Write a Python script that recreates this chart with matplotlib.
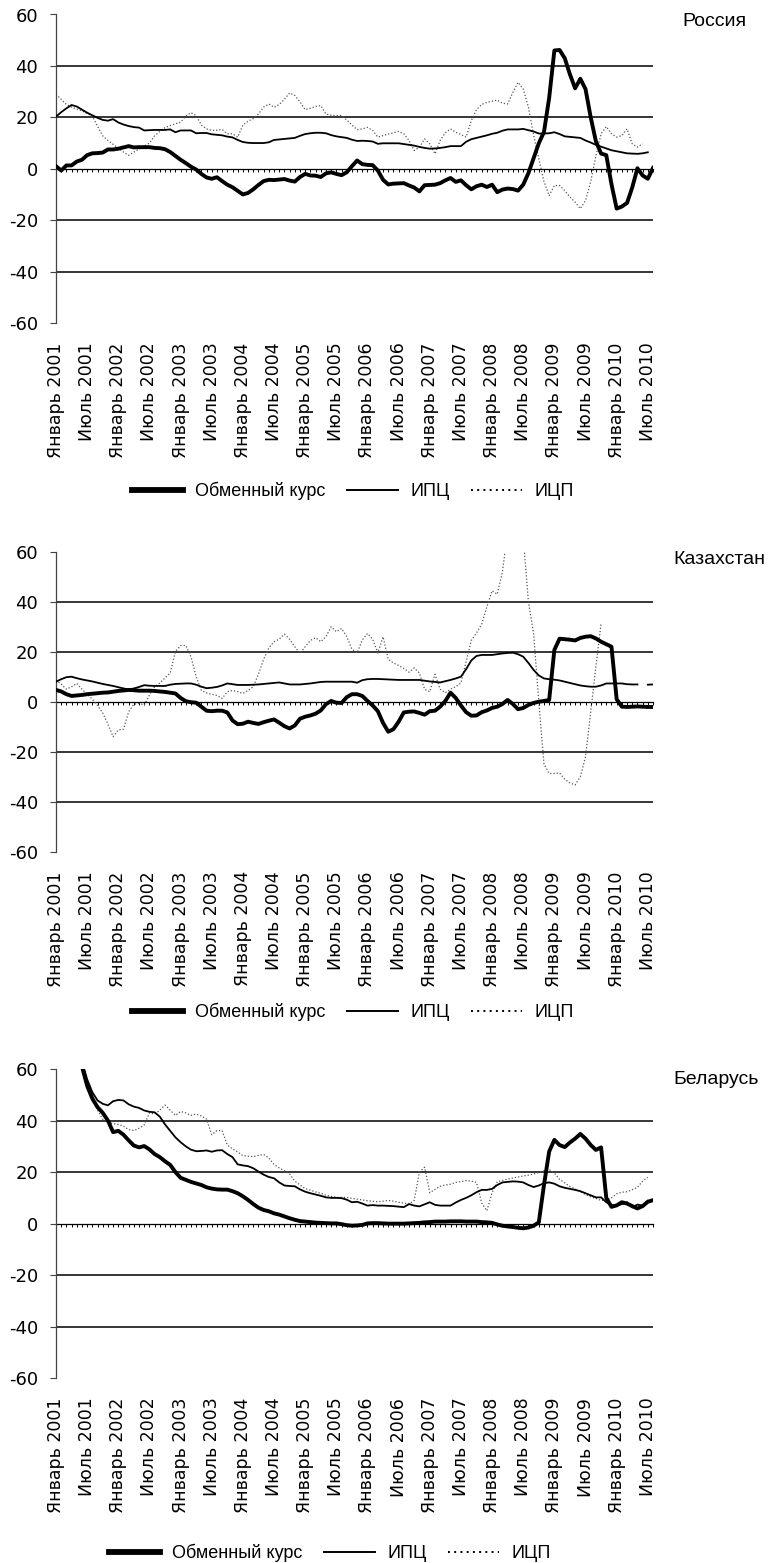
import numpy as np
import matplotlib.pyplot as plt
from matplotlib.lines import Line2D

plt.rcParams['axes.unicode_minus'] = False

nan = np.nan

# Россия
rus_fx = [1.0, -0.7, 1.3, 1.3, 2.8, 3.5, 5.3, 6.0, 6.1, 6.3,
          7.5, 7.5, 7.8, 8.3, 8.8, 8.3, 8.4, 8.4, 8.4, 8.1,
          8.0, 7.6, 6.5, 5.0, 3.5, 2.2, 0.8, -0.3, -2.0, -3.4,
          -3.9, -3.3, -4.8, -6.2, -7.2, -8.6, -10.0, -9.4, -8.0, -6.3,
          -4.8, -4.3, -4.4, -4.2, -4.0, -4.6, -5.0, -3.2, -2.0, -2.6,
          -2.7, -3.2, -1.8, -1.4, -2.0, -2.5, -1.4, 1.0, 3.2, 1.8,
          1.5, 1.4, -0.7, -4.3, -6.1, -5.8, -5.7, -5.6, -6.5, -7.3,
          -8.8, -6.4, -6.3, -6.2, -5.6, -4.5, -3.6, -5.1, -4.5, -6.4,
          -8.0, -6.8, -6.2, -7.1, -6.2, -9.1, -8.1, -7.7, -7.9, -8.5,
          -6.2, -1.7, 4.1, 9.9, 14.3, 27.6, 46.0, 46.2, 43.0, 36.7,
          31.3, 35.0, 31.0, 20.0, 10.7, 5.9, 5.3, -6.0, -15.5, -14.7,
          -13.3, -7.3, 0.2, -2.6, -3.9, 0.3]
rus_cpi = [20.3, 22.0, 23.5, 24.8, 24.2, 23.0, 21.8, 20.8, 19.8, 19.0,
           18.7, 19.3, 18.0, 17.2, 16.6, 16.2, 16.0, 14.9, 15.0, 15.1,
           15.1, 15.1, 15.3, 14.2, 14.9, 14.9, 14.9, 13.8, 13.9, 13.9,
           13.4, 13.2, 13.0, 12.5, 12.2, 11.2, 10.4, 10.1, 10.0, 10.0,
           10.0, 10.3, 11.2, 11.4, 11.6, 11.8, 12.0, 12.8, 13.5, 13.8,
           14.0, 14.0, 13.8, 13.1, 12.6, 12.3, 12.0, 11.3, 10.8, 10.9,
           10.8, 10.6, 9.7, 9.9, 9.9, 9.9, 9.9, 9.6, 9.3, 9.0,
           8.5, 8.1, 7.8, 7.9, 8.1, 8.4, 8.8, 8.8, 8.8, 10.5,
           11.5, 12.0, 12.5, 13.0, 13.6, 14.0, 14.8, 15.3, 15.3, 15.3,
           15.5, 15.0, 14.5, 13.7, 13.7, 13.8, 14.2, 13.5, 12.6, 12.4,
           12.2, 12.0, 11.0, 10.2, 9.3, 8.6, 7.9, 7.2, 6.8, 6.4,
           6.0, 5.9, 5.8, 6.0, 6.4, nan]
rus_ppi = [29.0, 27.0, 25.0, 24.0, 23.2, 22.5, 21.5, 20.5, 16.5, 12.8,
           11.0, 9.5, 8.0, 6.5, 5.2, 6.5, 7.6, 8.8, 10.0, 12.8,
           14.5, 16.0, 16.8, 17.5, 18.1, 20.5, 21.8, 20.7, 17.0, 15.5,
           14.9, 15.0, 15.3, 13.6, 13.6, 12.3, 17.0, 18.5, 19.5, 21.3,
           24.0, 25.2, 23.9, 25.0, 27.0, 29.5, 28.5, 26.0, 23.0, 23.5,
           24.2, 24.6, 21.3, 20.8, 20.7, 20.7, 19.0, 17.0, 15.2, 15.5,
           16.1, 14.9, 12.3, 12.9, 13.5, 14.0, 14.5, 13.6, 11.0, 7.1,
           8.4, 11.6, 9.7, 5.8, 11.0, 14.0, 15.5, 14.2, 13.3, 12.3,
           18.7, 23.0, 25.0, 25.8, 26.3, 26.7, 25.5, 25.2, 29.7, 33.6,
           31.0, 24.0, 13.0, 4.0, -5.0, -10.5, -6.5, -6.5, -8.5, -11.0,
           -13.0, -15.5, -12.3, -5.0, 5.0, 13.6, 16.4, 13.6, 12.3, 12.9,
           15.5, 9.7, 8.4, 9.7, nan, nan]

# Казахстан
kaz_fx = [4.7, 4.1, 3.0, 2.3, 2.5, 2.7, 3.0, 3.2, 3.4, 3.6,
          3.7, 4.0, 4.3, 4.5, 4.7, 4.6, 4.4, 4.4, 4.4, 4.3,
          4.1, 3.9, 3.6, 3.3, 1.5, 0.2, -0.2, -0.4, -2.0, -3.6,
          -3.8, -3.6, -3.6, -4.3, -7.5, -9.0, -8.8, -8.0, -8.5, -8.9,
          -8.2, -7.6, -7.1, -8.4, -9.8, -10.7, -9.5, -6.8, -6.0, -5.5,
          -4.8, -3.5, -1.0, 0.3, -0.4, -0.5, 1.8, 3.0, 3.0, 2.3,
          0.3, -1.5, -3.8, -8.5, -12.0, -11.0, -8.0, -4.3, -4.0, -3.9,
          -4.5, -5.2, -3.8, -3.6, -2.0, 0.3, 3.6, 1.5, -1.5, -4.2,
          -5.6, -5.5, -4.2, -3.5, -2.5, -2.0, -0.9, 0.7, -0.9, -3.0,
          -2.5, -1.3, -0.5, 0.0, 0.3, 0.7, 20.7, 25.2, 25.0, 24.8,
          24.5, 25.5, 26.0, 26.2, 25.3, 24.0, 23.0, 22.0, 1.0, -2.0,
          -2.1, -2.0, -1.9, -2.0, -2.1, -2.1]
kaz_cpi = [8.0, 9.0, 9.8, 10.0, 9.4, 8.9, 8.5, 8.1, 7.6, 7.1,
           6.7, 6.3, 5.8, 5.3, 4.9, 5.3, 5.9, 6.6, 6.4, 6.3,
           6.3, 6.3, 6.8, 7.1, 7.2, 7.3, 7.3, 6.8, 6.0, 5.4,
           5.6, 5.9, 6.5, 7.3, 7.0, 6.7, 6.7, 6.7, 6.8, 6.9,
           7.1, 7.3, 7.5, 7.7, 7.3, 6.9, 6.9, 6.9, 7.1, 7.3,
           7.6, 7.9, 8.0, 8.0, 8.0, 8.0, 8.0, 8.0, 7.6, 8.6,
           9.0, 9.1, 9.1, 9.0, 8.9, 8.8, 8.7, 8.7, 8.7, 8.7,
           8.7, 8.4, 8.1, 7.9, 7.7, 8.2, 8.7, 9.3, 10.0, 13.0,
           16.5, 18.3, 18.7, 18.7, 18.7, 19.0, 19.3, 19.5, 19.6, 19.0,
           18.0, 15.5, 12.7, 10.5, 9.3, 9.0, 8.8, 8.5, 8.0, 7.5,
           7.0, 6.5, 6.2, 6.0, 6.0, 6.5, 7.3, 7.3, 7.3, 7.3,
           7.0, 6.9, 6.9, nan, 6.8, 6.9]
kaz_ppi = [8.7, 7.0, 5.0, 6.0, 7.3, 5.0, 3.0, 1.0, -1.5, -4.5,
           -9.0, -14.0, -11.3, -11.0, -4.0, -1.0, -0.7, -1.3, 2.7, 6.0,
           7.5, 9.5, 11.5, 20.0, 22.5, 22.5, 18.0, 10.0, 4.5, 3.5,
           3.0, 2.5, 1.3, 4.0, 4.5, 4.0, 3.3, 4.5, 6.0, 11.0,
           17.0, 21.5, 24.0, 25.0, 27.0, 25.0, 22.0, 19.3, 22.0, 24.5,
           25.6, 24.0, 26.0, 30.0, 28.0, 29.3, 26.0, 21.0, 19.5, 24.7,
           27.3, 25.0, 19.5, 26.0, 17.0, 15.5, 14.5, 13.3, 11.8, 13.5,
           11.5, 5.0, 4.0, 11.0, 5.0, 3.6, 5.0, 6.0, 7.5, 16.0,
           24.5, 27.5, 31.0, 38.0, 44.4, 43.0, 52.0, 68.0, 74.0, 74.0,
           66.0, 40.0, 27.3, 0.0, -25.0, -28.7, -28.7, -28.5, -31.0, -32.5,
           -33.3, -30.0, -22.0, -4.0, 14.0, 31.3, nan, nan, nan, nan,
           nan, nan, nan, nan, nan, nan]

# Беларусь
bel_fx = [95, 88, 80, 72, 66, 61, 53.5, 48.5, 45.2, 43.0,
          40.0, 35.5, 36.0, 34.5, 32.3, 30.3, 29.6, 30.1, 28.8, 27.0,
          25.8, 24.2, 22.8, 20.0, 17.8, 17.0, 16.2, 15.6, 15.0, 14.1,
          13.6, 13.3, 13.2, 13.2, 12.6, 11.8, 10.6, 9.2, 7.6, 6.2,
          5.3, 4.8, 4.0, 3.5, 2.8, 2.1, 1.5, 1.0, 0.8, 0.6,
          0.4, 0.3, 0.2, 0.1, 0.1, -0.2, -0.6, -0.8, -0.7, -0.5,
          0.1, 0.2, 0.2, 0.1, 0.0, 0.0, 0.0, 0.0, 0.1, 0.2,
          0.3, 0.5, 0.6, 0.8, 0.8, 0.8, 0.9, 0.9, 0.9, 0.8,
          0.8, 0.8, 0.6, 0.5, 0.3, -0.3, -0.8, -1.1, -1.3, -1.6,
          -1.8, -1.5, -0.8, 0.5, 15.0, 28.0, 32.5, 30.5, 29.7, 31.5,
          33.0, 34.8, 33.0, 30.5, 28.6, 29.6, 10.0, 6.5, 7.1, 8.3,
          7.8, 6.8, 5.9, 6.8, 8.5, 9.1]
bel_cpi = [100, 93, 85, 76, 69, 63, 56.0, 51.0, 47.8, 46.5,
           45.9, 47.5, 48.0, 47.8, 46.3, 45.4, 44.9, 43.9, 43.4, 43.2,
           41.5, 38.5, 36.0, 33.5, 31.6, 30.0, 28.7, 28.1, 28.2, 28.4,
           27.9, 28.4, 28.5, 27.0, 25.8, 23.0, 22.6, 22.3, 21.5, 20.2,
           19.0, 18.1, 17.6, 16.0, 14.8, 14.6, 14.5, 13.3, 12.4, 11.8,
           11.3, 10.8, 10.2, 10.0, 10.0, 9.9, 9.3, 8.3, 8.5, 7.8,
           7.0, 7.2, 7.0, 7.0, 6.9, 6.8, 6.6, 6.4, 7.6, 7.0,
           6.7, 7.5, 8.3, 7.3, 7.0, 7.0, 7.0, 8.2, 9.2, 10.0,
           11.0, 12.2, 13.1, 13.1, 13.5, 15.0, 16.0, 16.2, 16.4, 16.3,
           16.0, 15.0, 14.2, 14.8, 15.7, 16.0, 15.5, 14.5, 13.9, 13.5,
           13.1, 12.6, 11.8, 11.0, 10.2, 10.2, 8.3, 7.2, 7.0, 7.6,
           8.3, 6.3, 7.4, 7.0, 8.9, nan]
bel_ppi = [110, 100, 88, 78, 70, 63, 55, 49, 44, 40.5,
           39.3, 38.8, 38.5, 37.8, 36.5, 36.1, 37.0, 38.3, 43.0, 42.5,
           44.0, 46.0, 44.0, 42.0, 43.5, 43.0, 42.0, 42.5, 41.8, 40.6,
           34.5, 36.1, 36.1, 30.5, 29.0, 27.8, 26.4, 26.2, 26.0, 26.5,
           26.8, 25.5, 23.0, 21.6, 20.5, 19.3, 16.5, 15.0, 13.6, 13.0,
           12.3, 11.8, 11.0, 10.6, 10.2, 10.2, 10.2, 9.8, 9.5, 9.2,
           8.9, 8.7, 8.5, 8.7, 9.0, 8.7, 8.3, 8.0, 7.6, 9.0,
           20.0, 21.9, 12.0, 13.3, 14.5, 15.0, 15.3, 16.0, 16.3, 16.7,
           16.5, 16.0, 8.0, 5.0, 12.0, 16.3, 16.8, 17.3, 17.7, 18.1,
           18.5, 18.8, 19.3, 19.8, 20.5, 21.0, 19.6, 17.2, 15.8, 14.4,
           13.5, 12.4, 11.3, 10.4, 9.8, 9.0, 9.1, 10.0, 11.6, 12.2,
           12.4, 13.2, 14.1, 16.5, 18.0, nan]

series_names = ['Обменный курс', 'ИПЦ', 'ИЦП']
tick_labels = [f'{m} {y}' for y in range(2001, 2011) for m in ('Январь', 'Июль')]

W, H = 773, 1563
fig = plt.figure(figsize=(W / 100, H / 100), dpi=100)

# название, ряды, (верх, низ оси в px), центр легенды, подпись страны
panels = [
    ('Россия', rus_fx, rus_cpi, rus_ppi, (14.5, 323), (353, 491), (682, 22)),
    ('Казахстан', kaz_fx, kaz_cpi, kaz_ppi, (551.7, 851.7), (353, 1012), (673, 560)),
    ('Беларусь', bel_fx, bel_cpi, bel_ppi, (1069, 1378.3), (330, 1553), (673, 1080)),
]

for name, fx, cpi, ppi, (top, bot), (lx, ly), (tx, ty) in panels:
    ax = fig.add_axes([56 / W, 1 - bot / H, 597 / W, (bot - top) / H])
    x = np.arange(len(fx))
    ax.set_xlim(0, len(fx) - 1)
    ax.set_ylim(-60, 60)

    for v in (40, 20, -20, -40):
        ax.axhline(v, color='black', lw=1.1, zorder=1)

    ax.plot(x, ppi, color='#555555', lw=0.9, ls=(0, (1, 1.6)), zorder=2)
    ax.plot(x, cpi, color='black', lw=1.3, zorder=3)
    ax.plot(x, fx, color='black', lw=2.8, zorder=4, solid_joinstyle='round')

    for s in ('top', 'right', 'bottom'):
        ax.spines[s].set_visible(False)
    ax.spines['left'].set_linewidth(0.9)
    ax.spines['left'].set_color('#444444')

    ax.set_yticks(range(-60, 61, 20))
    ax.tick_params(axis='y', length=4, width=0.8, color='#444444',
                   labelsize=13, pad=9)
    ax.set_xticks(x[::6])
    ax.set_xticklabels(tick_labels, rotation=90, fontsize=12.5)
    ax.tick_params(axis='x', length=0, pad=14)

    # ось категорий на нуле с месячными делениями
    sec = ax.secondary_xaxis(0.5)
    sec.set_alignment('bottom')
    sec.set_xticks(x)
    sec.tick_params(axis='x', length=2.5, width=0.7, direction='out',
                    labelbottom=False, labeltop=False)
    sec.spines['bottom'].set_linewidth(0.9)

    handles = [Line2D([], [], color='black', lw=4.2),
               Line2D([], [], color='black', lw=1.4),
               Line2D([], [], color='black', lw=1.4, ls=(0, (1, 2.2)))]
    fig.legend(handles, series_names, loc='center',
               bbox_to_anchor=(lx / W, 1 - ly / H), ncol=3, frameon=False,
               prop={'family': 'Liberation Sans', 'size': 13},
               handlelength=2.8, handletextpad=0.7, columnspacing=1.2)

    fig.text(tx / W, 1 - ty / H, name, fontsize=14, family='Liberation Sans',
             ha='left', va='center')

fig.savefig('out.png', dpi=100)
